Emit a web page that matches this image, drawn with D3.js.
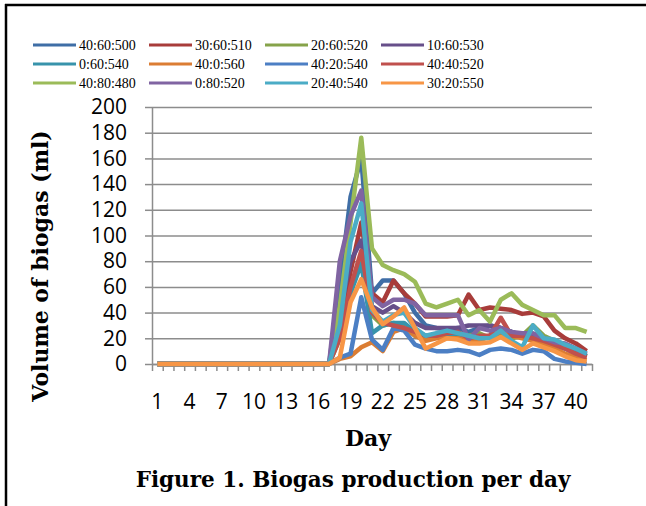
<!DOCTYPE html>
<html>
<head>
<meta charset="utf-8">
<script src="https://cdn.jsdelivr.net/npm/d3@7"></script>
<style>
  body { margin: 0; background: #fff; }
  svg { display: block; }
</style>
</head>
<body>
<svg id="chart" width="646" height="506"></svg>
<script>
// days 1..41, nothing produced before day 18
const days = d3.range(1, 42);
const dayLabels = [1, 4, 7, 10, 13, 16, 19, 22, 25, 28, 31, 34, 37, 40];
const yTicks = [0, 20, 40, 60, 80, 100, 120, 140, 160, 180, 200];

const seriesNames = ["40:60:500", "30:60:510", "20:60:520", "10:60:530",
  "0:60:540", "40:0:560", "40:20:540", "40:40:520",
  "40:80:480", "0:80:520", "20:40:540", "30:20:550"];

const seriesColors = ["#3f6ea6", "#a83c3a", "#86a34a", "#674f8a",
  "#3893ab", "#db7d33", "#4c7fc4", "#c0504d",
  "#9bbb59", "#8064a2", "#4bacc6", "#f79646"];

const zeros = new Array(17).fill(0);

// values from day 18 to day 41
const s4060500 = zeros.concat([62, 130, 160, 55, 65, 65, 55, 40, 30, 28, 27, 28, 25, 28, 30, 28, 25, 22, 20, 18, 15, 12, 8, 6]);
const s3060510 = zeros.concat([30, 72, 110, 55, 48, 65, 55, 47, 37, 37, 37, 38, 54, 42, 44, 43, 42, 39, 40, 37, 26, 20, 16, 10]);
const s2060520 = zeros.concat([20, 55, 85, 38, 30, 32, 31, 22, 20, 22, 22, 24, 22, 24, 20, 22, 20, 22, 30, 22, 18, 14, 10, 6]);
const s1060530 = zeros.concat([40, 80, 96, 45, 40, 45, 40, 32, 28, 28, 28, 28, 30, 30, 30, 28, 25, 22, 22, 20, 17, 14, 10, 7]);
const s060540  = zeros.concat([25, 55, 78, 24, 30, 32, 32, 25, 22, 22, 22, 22, 20, 20, 22, 25, 24, 22, 20, 20, 17, 14, 10, 6]);
const s400560  = zeros.concat([4, 6, 13, 17, 10, 25, 28, 22, 18, 20, 20, 20, 18, 18, 22, 25, 22, 20, 18, 15, 12, 8, 5, 3]);
const s4020540 = zeros.concat([5, 8, 52, 19, 11, 28, 26, 15, 12, 10, 10, 11, 10, 7, 11, 12, 11, 8, 11, 10, 4, 2, 1, 0]);
const s4040520 = zeros.concat([20, 60, 88, 40, 32, 30, 28, 25, 22, 22, 24, 25, 20, 22, 22, 36, 22, 22, 20, 18, 15, 12, 8, 5]);
const s4080480 = zeros.concat([45, 110, 176, 90, 77, 73, 70, 64, 47, 44, 47, 50, 38, 42, 33, 50, 55, 46, 42, 38, 38, 28, 28, 25]);
const s080520  = zeros.concat([80, 115, 135, 52, 45, 50, 50, 47, 38, 38, 38, 38, 19, 28, 26, 28, 25, 24, 24, 20, 17, 16, 12, 8]);
const s2040540 = zeros.concat([30, 95, 125, 42, 33, 38, 40, 28, 22, 24, 26, 24, 22, 20, 20, 26, 18, 13, 30, 20, 19, 15, 12, 8]);
const s3020550 = zeros.concat([5, 48, 66, 44, 31, 37, 44, 28, 12, 16, 20, 19, 16, 16, 17, 21, 16, 11, 16, 13, 10, 6, 3, 2]);

const seriesValues = [s4060500, s3060510, s2060520, s1060530, s060540, s400560,
  s4020540, s4040520, s4080480, s080520, s2040540, s3020550];

const svg = d3.select("#chart");

const plotLeft = 152, plotRight = 592, plotTop = 107, plotBottom = 364;

// frame of the figure (top and left edge only)
svg.append("line").attr("x1", 5).attr("x2", 646).attr("y1", 5).attr("y2", 5)
  .attr("stroke", "#000").attr("stroke-width", 2.5);
svg.append("line").attr("x1", 6).attr("x2", 6).attr("y1", 4).attr("y2", 506)
  .attr("stroke", "#000").attr("stroke-width", 2.5);

const x = d3.scaleBand().domain(days).range([plotLeft, plotRight]).padding(0);
const xEdge = d3.scaleLinear().domain([0.5, 41.5]).range([plotLeft, plotRight]);
const y = d3.scaleLinear().domain([0, 200]).range([plotBottom, plotTop]);

// grid lines
const grid = svg.append("g").attr("transform", "translate(" + plotLeft + ",0)")
  .call(d3.axisLeft(y).tickValues(yTicks).tickSize(-(plotRight - plotLeft)).tickFormat(""));
grid.select(".domain").remove();
grid.selectAll("line").attr("stroke", "#8c8c8c").attr("stroke-width", 1.5);

// y axis with labels
const yAxis = svg.append("g").attr("transform", "translate(" + plotLeft + ",0)")
  .call(d3.axisLeft(y).tickValues(yTicks).tickSizeInner(7).tickSizeOuter(0).tickPadding(18));
yAxis.select(".domain").attr("stroke", "#8c8c8c").attr("stroke-width", 1.5);
yAxis.selectAll("line").attr("stroke", "#8c8c8c").attr("stroke-width", 1.5);
yAxis.selectAll("text").style("font-family", "'Open Sans'").style("font-size", "21px").attr("fill", "#000");

// x axis: tick marks between categories
const xTicks = svg.append("g").attr("transform", "translate(0," + plotBottom + ")")
  .call(d3.axisBottom(xEdge).tickValues(d3.range(0.5, 42, 1)).tickSizeInner(7).tickSizeOuter(0).tickFormat(""));
xTicks.select(".domain").attr("stroke", "#8c8c8c").attr("stroke-width", 1.5);
xTicks.selectAll("line").attr("stroke", "#8c8c8c").attr("stroke-width", 1.5);

// x labels every third day
const xLab = svg.append("g").attr("transform", "translate(0," + plotBottom + ")")
  .call(d3.axisBottom(x).tickValues(dayLabels).tickSize(0).tickPadding(30));
xLab.select(".domain").remove();
xLab.selectAll("text").style("font-family", "'Open Sans'").style("font-size", "21px").attr("fill", "#000");

// lines
const line = d3.line()
  .x((d, i) => x(days[i]) + x.bandwidth() / 2)
  .y(d => y(d));

seriesValues.forEach((vals, k) => {
  svg.append("path")
    .datum(vals)
    .attr("d", line)
    .attr("fill", "none")
    .attr("stroke", seriesColors[k])
    .attr("stroke-width", 4.5)
    .attr("stroke-linejoin", "round");
});

// legend, 4 columns x 3 rows
const legend = svg.append("g");
seriesNames.forEach((name, k) => {
  const col = k % 4, row = Math.floor(k / 4);
  const lx = 33 + col * 116, ly = 45 + row * 19;
  legend.append("line").attr("x1", lx).attr("x2", lx + 43).attr("y1", ly).attr("y2", ly)
    .attr("stroke", seriesColors[k]).attr("stroke-width", 3);
  legend.append("text").attr("x", lx + 46).attr("y", ly + 5)
    .style("font-family", "'Liberation Serif'").style("font-size", "14px")
    .text(name);
});

// axis titles and caption
svg.append("text")
  .attr("transform", "translate(48,266) rotate(-90)")
  .attr("text-anchor", "middle")
  .style("font-family", "'DejaVu Serif'").style("font-weight", "bold").style("font-size", "22px")
  .text("Volume of  biogas (ml)");

svg.append("text").attr("x", 368).attr("y", 446).attr("text-anchor", "middle")
  .style("font-family", "'DejaVu Serif'").style("font-weight", "bold").style("font-size", "22px")
  .text("Day");

svg.append("text").attr("x", 353).attr("y", 487).attr("text-anchor", "middle")
  .style("font-family", "'DejaVu Serif'").style("font-weight", "bold").style("font-size", "21.5px")
  .text("Figure 1. Biogas production per day");
</script>
</body>
</html>
